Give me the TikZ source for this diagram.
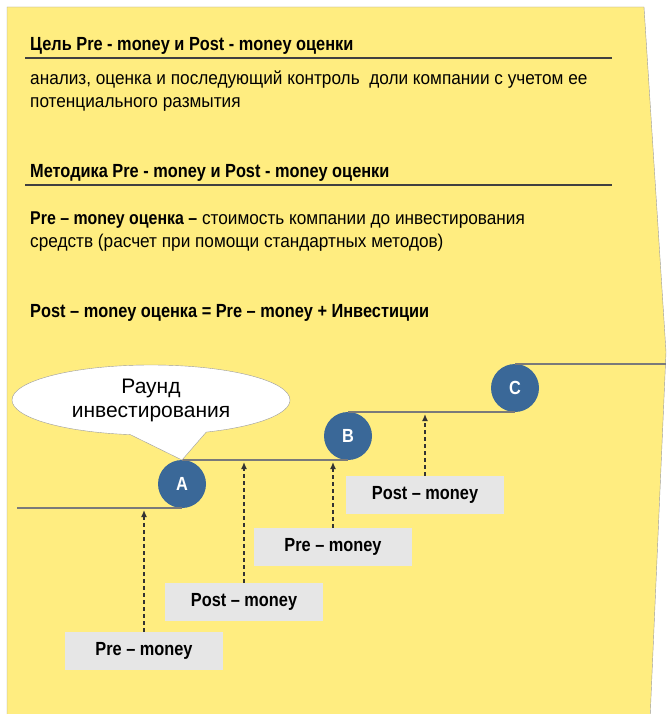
\documentclass[tikz,border=0pt]{standalone}
\usepackage{fontspec}
\setmainfont{Liberation Sans}
\newfontfamily\narrow{Liberation Sans}[FakeStretch=0.93]
\newfontfamily\heavy{Liberation Sans Bold}[FakeStretch=0.86]
\usetikzlibrary{arrows.meta,shapes.callouts}

\definecolor{paper}{HTML}{FFED80}
\definecolor{rim}{HTML}{9C9C9C}
\definecolor{stepline}{HTML}{7A7A7A}
\definecolor{roundblue}{HTML}{3A6898}
\definecolor{tag}{HTML}{E6E6E6}

\tikzset{
  head/.style={anchor=base west, inner sep=0pt, font=\heavy\fontsize{19}{23}\selectfont},
  body/.style={anchor=base west, inner sep=0pt, align=left, font=\narrow\fontsize{18.5}{23}\selectfont},
  rule/.style={black!75, line width=1.2pt},
  round/.style={circle, fill=roundblue, minimum size=48pt, inner sep=0pt, outer sep=0pt,
    text=white, font=\heavy\fontsize{19}{19}\selectfont},
  tagbox/.style={fill=tag, minimum width=158pt, minimum height=38pt,
    font=\heavy\fontsize{19}{19}\selectfont},
  stair/.style={stepline, line width=2pt},
  lift/.style={black!80, line width=1.3pt, dash pattern=on 4pt off 3pt,
    -{Latex[length=7pt,width=6pt]}, shorten >=2pt},
  bubble/.style={ellipse callout, draw=rim, fill=white, minimum width=278pt, minimum height=70pt,
    inner sep=0pt, align=center, callout pointer arc=32, font=\fontsize{21}{24}\selectfont},
}

\begin{document}
\begin{tikzpicture}[x=1pt, y=-1pt]
\useasboundingbox (0,0) rectangle (666,714);
\draw[rim, fill=paper] (7,7) -- (644,7) -- (666,352) -- (650,720) -- (7,720) -- cycle;

% goal and method (multi-line nodes sit on their last line)
\node[head] (goal) at (30,51) {Цель Pre - money и Post - money оценки};
\draw[rule] (25,58) -- (612,58);
\node[body] (goaltxt) at (30,108) {анализ, оценка и последующий контроль\ \ доли компании с учетом ее\\потенциального размытия};
\node[head] (method) at (30,178) {Методика Pre - money и Post - money оценки};
\draw[rule] (25,185) -- (612,185);
\node[body] (pre) at (30,247) {{\heavy Pre – money оценка –} стоимость компании до инвестирования\\средств (расчет при помощи стандартных методов)};
\node[head] (post) at (30,317) {Post – money оценка = Pre – money + Инвестиции};

% rounds on the staircase
\node[round] (A) at (182,484) {A};
\node[round] (B) at (348,436) {B};
\node[round] (C) at (515,388) {C};
\coordinate (s0) at (17,508);
\coordinate (s4) at (666,364);
\draw[stair] (s0) -- (A.south);
\draw[stair] (A.north) -- (B.south);
\draw[stair] (B.north) -- (C.south);
\draw[stair] (C.north) -- (s4);

\node[bubble, callout absolute pointer={(A.north)}] (talk) at (151,400) {Раунд\\инвестирования};

% valuations before and after each round
\foreach \name/\pos/\txt/\lvl in {p1/{144,651}/Pre – money/s0, p2/{244,602}/Post – money/A.north,
    p3/{333,547}/Pre – money/A.north, p4/{425,495}/Post – money/B.north} {
  \node[tagbox] (\name) at (\pos) {\txt};
  \draw[lift] (\name.north) -- (\name.north |- \lvl);
}
\end{tikzpicture}
\end{document}
